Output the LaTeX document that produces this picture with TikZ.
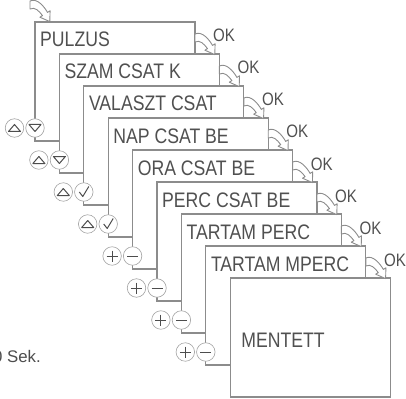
\documentclass[tikz,border=0pt]{standalone}
\usepackage{fontspec}
\setmainfont{Liberation Sans}
\newfontfamily\lcdfont[FakeStretch=0.84]{Liberation Sans}
\usetikzlibrary{calc}
\definecolor{framegray}{HTML}{8C8C8C}
\definecolor{symgray}{HTML}{4D4D4D}
\definecolor{lcdgray}{HTML}{505050}
\begin{document}
\begin{tikzpicture}[x=1pt, y=-1pt,
    panel/.style={rectangle, draw=framegray, line width=1.1pt, fill=white, anchor=north west,
      minimum width=160pt, minimum height=119pt, inner sep=0pt, outer sep=0pt},
    lcd/.style={font=\lcdfont\fontsize{21}{21}\selectfont, text=lcdgray, anchor=base west, inner sep=0pt},
    oktext/.style={lcd, font=\lcdfont\fontsize{18}{18}\selectfont},
    btn/.style={circle, draw=framegray!80, line width=0.6pt, fill=white, minimum size=18.5pt, inner sep=0pt},
    sym/.style={draw=symgray, line width=1pt, line join=round},
    arrowline/.style={draw=framegray, fill=white, line width=0.9pt, line join=round},
    pics/symup/.style={code={\draw[sym] (-6,3.5) -- (6,3.5) -- (0,-3.5) -- cycle;}},
    pics/symdown/.style={code={\draw[sym] (-6,-3.5) -- (6,-3.5) -- (0,3.5) -- cycle;}},
    pics/symcheck/.style={code={\draw[sym] (-4.5,0) -- (-1,4.5) -- (5,-5.5);}},
    pics/symplus/.style={code={\draw[sym] (-5.5,0) -- (5.5,0) (0,-5.5) -- (0,5.5);}},
    pics/symminus/.style={code={\draw[sym] (-5.5,0) -- (5.5,0);}},
    pics/okarrow/.style={code={\draw[arrowline] (0,-4) .. controls (7,-7.5) and (14.5,2) .. (17.5,7.4)
      -- (20.1,5.8) -- (19.8,16.6) -- (9.9,12.2) -- (12.5,10.6) .. controls (9,6) and (5,1.5) .. (0,4) -- cycle;}}
  ]
  \useasboundingbox (0,0) rectangle (406,398);

  \foreach \i/\txt/\sl/\sr in {0/PULZUS/up/down, 1/SZAM CSAT K/up/down, 2/VALASZT CSAT/up/check,
      3/NAP CSAT BE/up/check, 4/ORA CSAT BE/plus/minus, 5/PERC CSAT BE/plus/minus,
      6/TARTAM PERC/plus/minus, 7/TARTAM MPERC/plus/minus} {
    \node[panel] (p\i) at ({35+24.4*\i},{22+32*\i}) {};
    \node[lcd] (t\i) at ($(p\i.north west)+(5,25)$) {\txt};
    \node[btn] (br\i) at ($(p\i.north west)+(0,106)$) {};
    \node[btn] (bl\i) at ($(br\i)+(-20.5,0)$) {};
    \pic at (bl\i) {sym\sl};
    \pic at (br\i) {sym\sr};
  }
  \node[panel] (p8) at ({35+24.4*8},{22+32*8}) {};
  \node[lcd] (t8) at ($(p8.north west)+(11,69)$) {MENTETT};

  \pic at ($(p0.north west)+(-5,-17)$) {okarrow};
  \foreach \i in {0,...,7} {
    \pic at ($(p\i.north east)+(0,16)$) {okarrow};
    \node[oktext] (ok\i) at ($(p\i.north east)+(18,20)$) {OK};
  }

  \node[anchor=base west, inner sep=0pt, text=symgray, font=\fontsize{16.8}{17}\selectfont] (sek) at (-7,362) {0 Sek.};
\end{tikzpicture}
\end{document}
